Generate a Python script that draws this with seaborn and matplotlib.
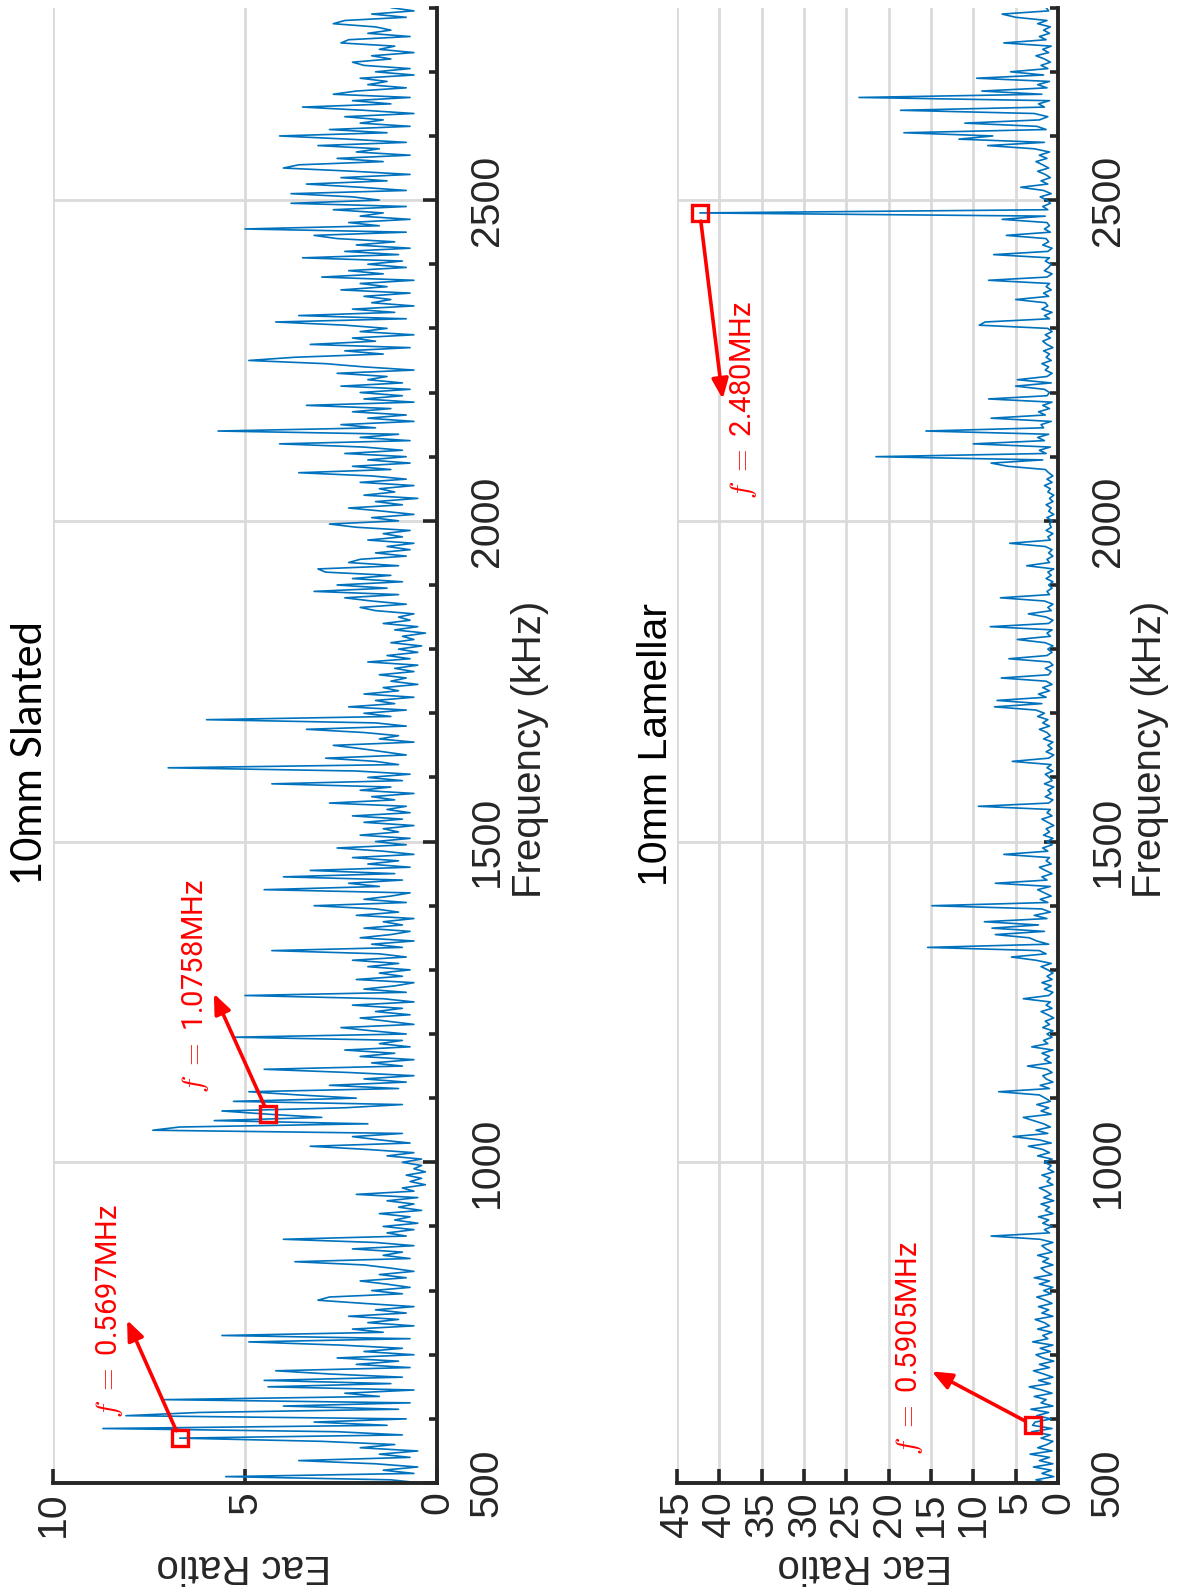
import numpy as np
import pandas as pd
import matplotlib
matplotlib.use("Agg")
import matplotlib.pyplot as plt
from matplotlib.ticker import MultipleLocator
import seaborn as sns

# ---------------- data ----------------
freq_start_khz = 500
freq_stop_khz = 2800
freq_step_khz = 5

# 10mm Slanted: Eac ratio, 5 kHz steps, one row per 100 kHz
slanted_500 = [0.4, 1.2, 5.5, 0.6, 1.4, 0.5, 1.6, 3.6, 0.7, 1.5, 0.5, 2.0, 1.1, 3.0, 6.7, 0.9, 2.6, 8.7, 1.3, 3.2]
slanted_600 = [0.8, 8.1, 6.2, 1.0, 4.0, 0.7, 7.1, 1.5, 2.4, 0.6, 4.4, 1.2, 4.5, 0.9, 2.8, 4.2, 0.7, 2.1, 1.0, 2.6]
slanted_700 = [0.6, 1.9, 0.9, 2.5, 4.9, 0.7, 5.6, 1.4, 2.2, 0.6, 1.8, 1.0, 2.3, 0.8, 1.6, 0.6, 1.9, 3.1, 2.8, 0.9]
slanted_800 = [1.7, 0.7, 1.3, 2.0, 0.8, 1.5, 0.6, 1.2, 1.9, 3.7, 0.7, 1.4, 0.9, 2.2, 0.6, 1.6, 4.0, 0.8, 1.3, 0.6]
slanted_900 = [1.4, 0.5, 1.1, 0.7, 1.5, 0.4, 1.0, 0.6, 1.3, 0.5, 2.1, 0.6, 0.9, 0.3, 0.7, 0.4, 0.8, 0.3, 0.6, 0.4]
slanted_1000 = [0.9, 0.4, 1.3, 0.6, 1.8, 3.3, 0.7, 1.5, 2.2, 0.9, 7.4, 6.7, 1.8, 5.8, 3.0, 4.4, 5.6, 2.4, 0.9, 5.3]
slanted_1100 = [2.1, 3.6, 4.9, 1.0, 2.8, 0.8, 1.9, 0.6, 2.3, 4.5, 0.9, 1.7, 0.6, 2.0, 1.1, 2.4, 0.7, 1.5, 0.9, 5.3]
slanted_1200 = [0.8, 1.7, 2.5, 0.6, 1.3, 2.0, 0.7, 1.6, 0.9, 2.2, 0.6, 1.4, 5.0, 0.8, 1.9, 1.1, 0.6, 2.1, 0.9, 1.5]
slanted_1300 = [0.7, 1.8, 1.0, 2.2, 0.8, 1.5, 4.3, 0.9, 1.7, 0.6, 2.0, 1.2, 0.7, 1.9, 0.9, 1.4, 0.6, 2.1, 1.0, 1.6]
slanted_1400 = [3.2, 0.8, 1.9, 1.2, 0.7, 4.5, 1.5, 2.3, 0.9, 4.0, 1.1, 3.3, 0.7, 1.8, 1.0, 2.2, 0.6, 1.4, 2.6, 0.8]
slanted_1500 = [1.6, 0.7, 2.0, 1.0, 1.4, 0.6, 1.9, 0.9, 2.2, 0.7, 1.3, 0.8, 2.8, 1.1, 1.7, 0.6, 2.0, 1.2, 4.3, 0.9]
slanted_1600 = [1.8, 0.7, 2.1, 7.0, 1.0, 1.6, 2.9, 0.8, 1.4, 2.0, 2.7, 0.6, 1.5, 1.0, 1.9, 3.4, 0.8, 1.6, 6.0, 1.2]
slanted_1700 = [1.9, 0.8, 2.3, 1.1, 1.6, 0.6, 1.9, 1.0, 1.4, 0.5, 1.2, 0.8, 1.5, 0.6, 1.1, 0.5, 1.8, 0.7, 1.3, 0.5]
slanted_1800 = [1.0, 0.4, 1.2, 0.6, 0.9, 0.3, 1.1, 0.5, 1.4, 0.7, 1.0, 0.6, 1.6, 2.0, 0.8, 1.7, 2.4, 1.0, 3.2, 1.3]
slanted_1900 = [2.6, 0.9, 2.2, 1.2, 2.9, 3.1, 1.0, 2.3, 2.0, 0.8, 1.6, 0.7, 1.3, 0.6, 1.8, 0.9, 1.4, 0.7, 2.1, 2.8]
slanted_2000 = [1.0, 1.7, 0.6, 1.4, 2.3, 0.9, 1.6, 0.5, 1.9, 1.1, 1.5, 0.6, 2.0, 0.8, 1.7, 3.6, 1.2, 2.2, 0.7, 1.8]
slanted_2100 = [0.8, 2.4, 0.9, 1.9, 4.1, 0.7, 2.0, 1.0, 5.7, 1.6, 2.5, 0.6, 1.8, 0.8, 2.2, 1.2, 3.4, 0.6, 1.9, 0.9]
slanted_2200 = [2.0, 0.7, 2.5, 0.9, 1.8, 1.3, 2.6, 0.6, 1.9, 2.9, 4.9, 3.7, 1.4, 2.4, 0.7, 3.3, 1.6, 2.2, 0.6, 2.0]
slanted_2300 = [1.3, 2.4, 4.2, 0.8, 3.6, 1.1, 2.2, 0.6, 1.7, 1.2, 1.9, 0.7, 2.5, 1.3, 2.0, 0.6, 3.0, 1.4, 2.3, 0.8]
slanted_2400 = [1.8, 0.9, 3.5, 1.0, 2.4, 0.7, 2.1, 1.1, 2.6, 3.2, 0.8, 5.0, 1.5, 2.3, 0.7, 2.0, 1.4, 2.7, 0.8, 3.8]
slanted_2500 = [1.5, 2.2, 3.8, 0.8, 2.0, 3.4, 1.3, 2.5, 0.7, 2.2, 4.0, 3.6, 1.4, 2.6, 0.7, 2.1, 1.5, 3.1, 0.8, 2.3]
slanted_2600 = [4.1, 1.3, 2.8, 0.7, 2.0, 1.4, 2.4, 0.6, 1.9, 3.5, 1.2, 2.2, 0.7, 2.7, 2.1, 0.8, 1.8, 1.3, 2.0, 0.6]
slanted_2700 = [1.6, 0.7, 1.9, 2.2, 1.2, 1.7, 0.6, 1.5, 1.1, 2.5, 2.3, 0.7, 1.8, 1.2, 1.6, 2.7, 2.4, 0.8, 1.7, 0.6]
slanted_2800 = [1.2]

# 10mm Lamellar: Eac ratio, 5 kHz steps, one row per 100 kHz
lamellar_500 = [1.2, 2.6, 0.5, 1.9, 0.8, 2.9, 0.6, 2.2, 1.0, 3.3, 0.7, 2.4, 1.3, 0.6, 2.0, 0.9, 3.1, 0.7, 3.0, 2.7]
lamellar_600 = [0.8, 2.5, 1.1, 3.2, 0.6, 2.0, 1.4, 2.8, 0.7, 1.9, 3.4, 0.9, 2.3, 0.6, 1.7, 2.9, 1.0, 2.2, 0.5, 1.8]
lamellar_700 = [2.6, 0.9, 2.1, 0.6, 3.0, 1.2, 1.8, 0.7, 2.4, 1.0, 1.6, 2.7, 0.6, 1.9, 1.1, 2.3, 0.7, 1.5, 2.5, 0.8]
lamellar_800 = [1.7, 0.6, 2.2, 1.0, 2.8, 0.7, 1.5, 2.0, 0.6, 1.8, 1.1, 2.4, 0.7, 1.4, 1.9, 0.6, 2.1, 7.9, 1.0, 1.6]
lamellar_900 = [0.7, 1.8, 1.1, 2.3, 0.6, 1.5, 1.0, 2.0, 0.5, 1.7, 0.8, 1.4, 2.2, 0.6, 1.3, 0.9, 1.9, 0.5, 1.2, 0.8]
lamellar_1000 = [1.6, 0.7, 2.4, 1.0, 1.8, 3.5, 0.8, 2.2, 5.3, 1.2, 2.6, 0.9, 1.7, 2.9, 4.1, 0.8, 2.0, 1.1, 2.5, 0.9]
lamellar_1100 = [1.5, 2.2, 7.0, 1.0, 2.1, 0.6, 1.4, 1.8, 0.7, 1.3, 3.6, 0.8, 1.6, 1.0, 1.9, 0.6, 3.1, 1.2, 1.7, 0.7]
lamellar_1200 = [1.3, 0.6, 1.8, 1.0, 1.5, 0.5, 1.2, 2.0, 0.7, 1.4, 0.9, 4.1, 1.1, 0.6, 1.6, 0.8, 1.9, 0.7, 1.3, 0.6]
lamellar_1300 = [1.2, 2.0, 0.8, 2.6, 5.5, 1.4, 2.2, 15.4, 1.1, 2.5, 3.4, 7.4, 1.6, 7.8, 2.3, 8.7, 1.3, 2.8, 0.9, 1.9]
lamellar_1400 = [14.9, 1.2, 2.1, 0.8, 1.6, 2.4, 0.9, 7.4, 1.3, 1.9, 0.7, 1.5, 2.2, 0.8, 1.4, 1.0, 6.4, 1.2, 1.8, 0.7]
lamellar_1500 = [1.3, 0.6, 1.7, 1.0, 1.4, 0.5, 1.2, 1.9, 0.7, 1.3, 0.9, 9.4, 1.1, 0.6, 1.5, 0.8, 1.2, 0.5, 1.6, 0.7]
lamellar_1600 = [1.0, 1.5, 0.6, 1.3, 0.8, 5.4, 1.1, 0.5, 1.4, 0.7, 1.2, 0.6, 1.7, 0.9, 1.3, 2.2, 1.0, 1.8, 1.2, 2.4]
lamellar_1700 = [1.6, 2.6, 7.5, 1.9, 7.2, 1.4, 2.3, 1.0, 1.8, 0.7, 1.4, 6.7, 1.1, 0.8, 1.5, 0.6, 1.0, 5.8, 1.3, 0.7]
lamellar_1800 = [1.2, 0.6, 1.5, 4.8, 0.9, 1.3, 0.7, 8.0, 1.1, 0.6, 1.4, 3.5, 0.8, 1.2, 0.6, 1.6, 6.8, 1.0, 1.3, 0.7]
lamellar_1900 = [1.1, 0.6, 1.4, 0.8, 1.2, 0.5, 3.7, 1.0, 1.3, 0.6, 1.1, 0.7, 1.5, 5.7, 0.9, 1.2, 0.6, 1.4, 0.8, 1.0]
lamellar_2000 = [0.7, 1.3, 0.5, 1.1, 0.8, 1.4, 0.6, 1.0, 0.5, 1.2, 0.9, 1.6, 0.7, 1.3, 0.6, 1.1, 1.5, 5.9, 7.9, 1.8]
lamellar_2100 = [21.5, 1.4, 2.2, 0.9, 10.0, 1.6, 2.4, 1.1, 15.6, 1.7, 2.0, 0.8, 7.9, 1.5, 2.3, 1.0, 1.8, 0.7, 8.2, 1.3]
lamellar_2200 = [1.0, 1.6, 5.0, 0.8, 4.8, 1.3, 0.7, 1.5, 1.1, 1.9, 0.8, 1.4, 1.0, 1.7, 0.6, 1.3, 1.8, 0.9, 1.5, 0.7]
lamellar_2300 = [1.2, 9.3, 8.6, 1.0, 1.6, 0.7, 1.9, 1.2, 1.5, 5.0, 1.1, 1.7, 0.8, 1.4, 1.0, 8.2, 1.3, 0.7, 1.6, 1.1]
lamellar_2400 = [0.8, 1.5, 1.0, 7.6, 1.2, 0.7, 1.8, 1.1, 1.4, 6.1, 0.9, 1.6, 1.0, 1.3, 6.6, 1.5, 42.3, 1.2, 1.8, 0.9]
lamellar_2500 = [1.3, 2.1, 0.8, 1.7, 4.4, 1.2, 2.0, 0.9, 1.5, 2.4, 1.1, 1.8, 2.6, 1.3, 2.2, 1.0, 2.8, 8.3, 1.6, 11.7]
lamellar_2600 = [7.7, 18.2, 1.4, 2.5, 11.0, 2.2, 1.2, 2.8, 18.6, 1.6, 2.3, 1.0, 23.5, 1.9, 9.0, 1.3, 2.4, 1.0, 9.6, 1.7]
lamellar_2700 = [5.6, 1.2, 2.0, 0.9, 1.6, 2.6, 1.1, 1.8, 0.8, 6.4, 1.4, 2.2, 1.0, 1.7, 0.9, 2.4, 1.3, 5.0, 6.6, 1.1]
lamellar_2800 = [1.4]

# marked peaks
slanted_peak_f = [569.7, 1075.8]
slanted_peak_eac = [6.7, 4.4]
slanted_peak_labels = [r"$f\ =$ 0.5697MHz", r"$f\ =$ 1.0758MHz"]
lamellar_peak_f = [590.5, 2480.0]
lamellar_peak_eac = [3.0, 42.3]
lamellar_peak_labels = [r"$f\ =$ 0.5905MHz", r"$f\ =$ 2.480MHz"]

titles = ["10mm Slanted", "10mm Lamellar"]
freq_label = "Frequency (kHz)"
eac_label = "Eac Ratio"

# ---------------- assemble ----------------
slanted_eac = (slanted_500 + slanted_600 + slanted_700 + slanted_800 + slanted_900 + slanted_1000
               + slanted_1100 + slanted_1200 + slanted_1300 + slanted_1400 + slanted_1500 + slanted_1600
               + slanted_1700 + slanted_1800 + slanted_1900 + slanted_2000 + slanted_2100 + slanted_2200
               + slanted_2300 + slanted_2400 + slanted_2500 + slanted_2600 + slanted_2700 + slanted_2800)
lamellar_eac = (lamellar_500 + lamellar_600 + lamellar_700 + lamellar_800 + lamellar_900 + lamellar_1000
                + lamellar_1100 + lamellar_1200 + lamellar_1300 + lamellar_1400 + lamellar_1500 + lamellar_1600
                + lamellar_1700 + lamellar_1800 + lamellar_1900 + lamellar_2000 + lamellar_2100 + lamellar_2200
                + lamellar_2300 + lamellar_2400 + lamellar_2500 + lamellar_2600 + lamellar_2700 + lamellar_2800)
freq = np.arange(freq_start_khz, freq_stop_khz + 1, freq_step_khz)
df_s = pd.DataFrame({"freq": freq, "eac": slanted_eac})
df_l = pd.DataFrame({"freq": freq, "eac": lamellar_eac})

# ---------------- style ----------------
sns.set_theme(style="white")
plt.rcParams["font.family"] = ["Liberation Sans", "DejaVu Sans"]
plt.rcParams["mathtext.fontset"] = "cm"

INK = "#262626"
BLUE = "#0072BD"
GRID = "#dadada"

fig = plt.figure(figsize=(11.8, 15.95), dpi=100)
fig.patch.set_facecolor("white")
ax1 = fig.add_axes([0.0449, 0.0702, 0.3254, 0.925])
ax2 = fig.add_axes([0.5737, 0.0702, 0.3229, 0.925])


def style_axes(ax, xmax, xstep):
    ax.set_facecolor("white")
    ax.set_xlim(xmax, 0)
    ax.set_ylim(freq_start_khz, freq_stop_khz)
    ax.xaxis.set_major_locator(MultipleLocator(xstep))
    ax.yaxis.set_major_locator(MultipleLocator(500))
    ax.yaxis.set_minor_locator(MultipleLocator(100))
    ax.yaxis.tick_right()
    for s in ["left", "top"]:
        ax.spines[s].set_visible(False)
    for s in ["right", "bottom"]:
        ax.spines[s].set_visible(True)
        ax.spines[s].set_linewidth(2.8)
        ax.spines[s].set_color(INK)
    ax.tick_params(axis="x", which="major", direction="in", length=10, width=2.6,
                   labelsize=29.5, labelrotation=90, pad=6, colors=INK, bottom=True, top=False)
    ax.tick_params(axis="y", which="major", direction="in", length=10, width=2.6,
                   labelsize=29.5, labelrotation=90, pad=22, colors=INK,
                   right=True, left=False, labelright=True, labelleft=False)
    ax.tick_params(axis="y", which="minor", direction="in", length=5.5, width=2.6,
                   colors=INK, right=True, left=False)
    for lab in ax.get_yticklabels():
        lab.set_verticalalignment("center")
        lab.set_horizontalalignment("left")
    ax.grid(True, which="major", color=GRID, linewidth=2.0)
    ax.set_axisbelow(True)
    ax.set_xlabel("")
    ax.set_ylabel("")


for ax, df in [(ax1, df_s), (ax2, df_l)]:
    sns.lineplot(data=df, x="eac", y="freq", sort=False, estimator=None, orient="y",
                 ax=ax, color=BLUE, linewidth=1.2, legend=False)

style_axes(ax1, 10, 5)
style_axes(ax2, 45, 5)

# peak markers
ax1.plot(slanted_peak_eac, slanted_peak_f, ls="none", marker="s", ms=11,
         mfc="none", mec="red", mew=2.4, zorder=5)
ax2.plot(lamellar_peak_eac, lamellar_peak_f, ls="none", marker="s", ms=11,
         mfc="none", mec="red", mew=2.4, zorder=5)

# annotation layout: (arrow tip eac, arrow tip freq, text eac, text freq)
slanted_layout = [(8.07, 754, 8.54, 769), (5.81, 1263, 6.28, 1275)]
lamellar_layout = [(14.9, 674, 17.5, 710), (39.6, 2190, 37.2, 2188)]

for ax, pe, pf, labels, layout in [
        (ax1, slanted_peak_eac, slanted_peak_f, slanted_peak_labels, slanted_layout),
        (ax2, lamellar_peak_eac, lamellar_peak_f, lamellar_peak_labels, lamellar_layout)]:
    for e, f, lab, (te, tf, xe, xf) in zip(pe, pf, labels, layout):
        ax.annotate("", xy=(te, tf), xytext=(e, f),
                    arrowprops=dict(arrowstyle="-|>,head_length=0.6,head_width=0.25",
                                    color="red", lw=2.6, shrinkA=6, shrinkB=0,
                                    mutation_scale=20), zorder=6)
        ax.text(xe, xf, lab, rotation=90, ha="center", va="center", color="red",
                fontsize=21, family=["Roboto", "DejaVu Sans"], zorder=6)

# titles and axis labels (figure is laid out rotated by 90 degrees)
fig.text(0.0254, 0.528, titles[0], rotation=90, ha="center", va="center",
         fontsize=30, color="black", family=["Lato", "DejaVu Sans"])
fig.text(0.556, 0.5335, titles[1], rotation=90, ha="center", va="center",
         fontsize=29.5, color="black")
fig.text(0.449, 0.530, freq_label, rotation=90, ha="center", va="center",
         fontsize=29, color=INK)
fig.text(0.9746, 0.530, freq_label, rotation=90, ha="center", va="center",
         fontsize=29, color=INK)
fig.text(0.2068, 0.0182, eac_label, rotation=180, ha="center", va="center",
         fontsize=29, color=INK)
fig.text(0.733, 0.0182, eac_label, rotation=180, ha="center", va="center",
         fontsize=29, color=INK)

fig.savefig("out.png", dpi=100, facecolor="white")
